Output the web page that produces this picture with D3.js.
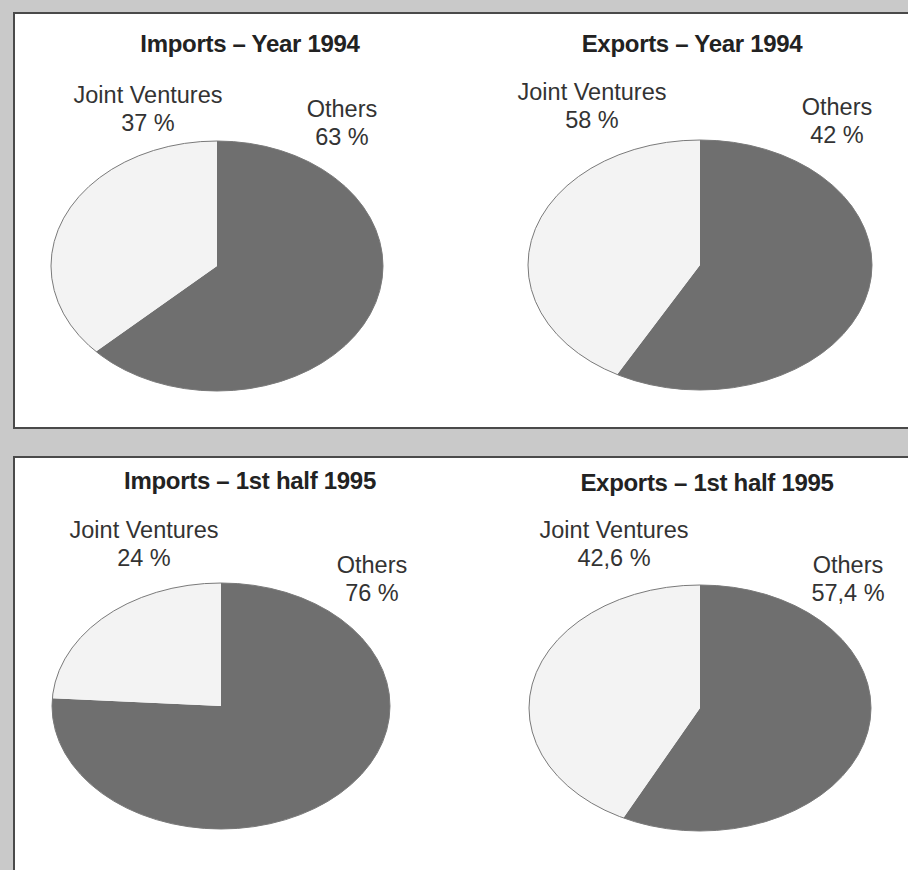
<!DOCTYPE html>
<html>
<head>
<meta charset="utf-8">
<script src="https://cdn.jsdelivr.net/npm/d3@7"></script>
<style>
  html, body { margin: 0; padding: 0; background: #c9c9c9; }
  svg { display: block; }
</style>
</head>
<body>
<svg id="chart" width="908" height="870"></svg>
<script>
// ---- data ----
const titles = ["Imports – Year 1994", "Exports – Year 1994", "Imports – 1st half 1995", "Exports – 1st half 1995"];
const categories = ["Others", "Joint Ventures"];
const jvLabels = ["37 %", "58 %", "24 %", "42,6 %"];
const othersLabels = ["63 %", "42 %", "76 %", "57,4 %"];
// slice shares as drawn in the picture (the 1994 exports pie is drawn with the shares swapped)
const othersShare = [63, 58, 76, 57.4];
const jvShare = [37, 42, 24, 42.6];

// ---- layout ----
const layout = [
  { cx: 217, cy: 266, rx: 166, ry: 125, title: [250, 52], jv: [148, 103], ot: [342, 117] },
  { cx: 700, cy: 265, rx: 172, ry: 125, title: [692, 52], jv: [592, 100], ot: [837, 115] },
  { cx: 221, cy: 706, rx: 169, ry: 123, title: [250, 489], jv: [144, 538], ot: [372, 573] },
  { cx: 700, cy: 708, rx: 171, ry: 123, title: [707, 491], jv: [614, 538], ot: [848, 573] }
];

const svg = d3.select("#chart");

// panels
svg.append("rect").attr("x", 14).attr("y", 13).attr("width", 910).attr("height", 415)
  .attr("fill", "#ffffff").attr("stroke", "#4a4a4a").attr("stroke-width", 2);
svg.append("rect").attr("x", 14).attr("y", 457).attr("width", 910).attr("height", 430)
  .attr("fill", "#ffffff").attr("stroke", "#4a4a4a").attr("stroke-width", 2);

const color = d3.scaleOrdinal().domain(categories).range(["#6f6f6f", "#f3f3f3"]);
const pie = d3.pie().sort(null).value(d => d.value).startAngle(0).endAngle(2 * Math.PI);
const R = 100;
const arc = d3.arc().innerRadius(0).outerRadius(R);

titles.forEach((t, i) => {
  const L = layout[i];
  const data = [
    { cat: "Others", value: othersShare[i] },
    { cat: "Joint Ventures", value: jvShare[i] }
  ];
  const g = svg.append("g")
    .attr("transform", `translate(${L.cx},${L.cy}) scale(${L.rx / R},${L.ry / R})`);
  g.selectAll("path.slice").data(pie(data)).join("path")
    .attr("class", "slice")
    .attr("d", arc)
    .attr("fill", d => color(d.data.cat))
    .attr("stroke", "none");
  g.append("ellipse").attr("cx", 0).attr("cy", 0).attr("rx", R).attr("ry", R)
    .attr("fill", "none").attr("stroke", "#7a7a7a").attr("stroke-width", 1)
    .attr("vector-effect", "non-scaling-stroke");

  const font = "'Liberation Sans', Arial, Helvetica, sans-serif";
  svg.append("text").attr("x", L.title[0]).attr("y", L.title[1])
    .attr("text-anchor", "middle").attr("font-family", font)
    .attr("font-weight", "bold").attr("font-size", 24).attr("fill", "#222")
    .attr("letter-spacing", -0.3)
    .text(t);

  const lab = (pos, name, pct) => {
    const tx = svg.append("text").attr("text-anchor", "middle").attr("font-family", font)
      .attr("font-size", 23.5).attr("fill", "#333");
    tx.append("tspan").attr("x", pos[0]).attr("y", pos[1]).text(name);
    tx.append("tspan").attr("x", pos[0]).attr("y", pos[1] + 28).text(pct);
  };
  lab(L.jv, categories[1], jvLabels[i]);
  lab(L.ot, categories[0], othersLabels[i]);
});
</script>
</body>
</html>
